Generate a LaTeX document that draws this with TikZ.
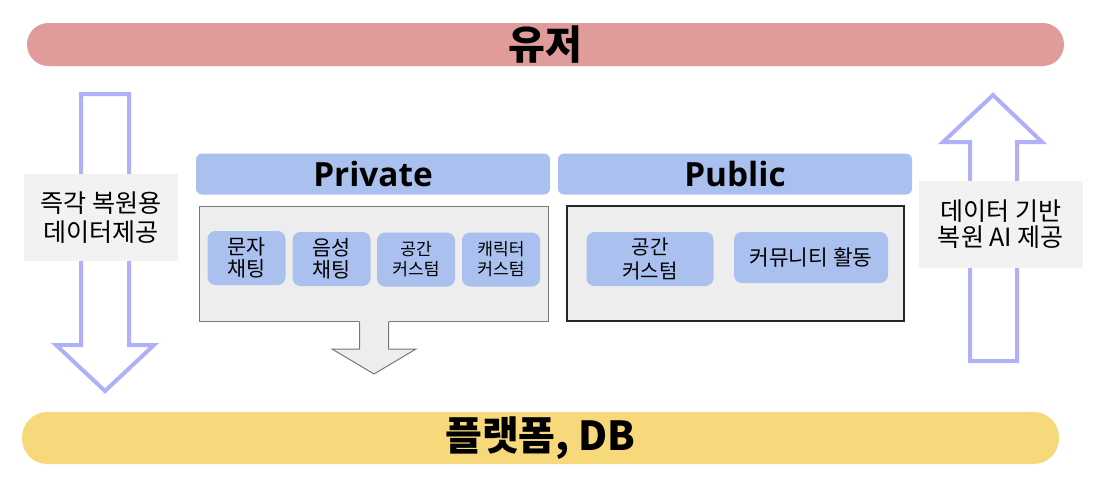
\documentclass[tikz,border=0pt]{standalone}
\usepackage{fontspec}
\setmainfont{Noto Sans CJK KR}
\newfontfamily\headfont{Open Sans}
\usepackage{tikz}

\definecolor{usercol}{RGB}{223,156,154}
\definecolor{dbcol}{RGB}{247,217,124}
\definecolor{headcol}{RGB}{170,192,238}
\definecolor{panelcol}{RGB}{237,237,237}
\definecolor{labelcol}{RGB}{242,242,242}
\definecolor{arrowcol}{RGB}{176,176,248}
\definecolor{edgecol}{RGB}{120,120,120}

\tikzset{
  bar/.style={inner sep=0pt, minimum width=777.75pt, font=\fontsize{30}{34}\selectfont\bfseries},
  header/.style={fill=headcol, rounded corners=4.5pt, inner sep=0pt, minimum width=265.5pt, minimum height=30.75pt, font=\headfont\fontsize{25}{28}\selectfont\bfseries},
  panel/.style={fill=panelcol, inner sep=0pt, minimum height=86.5pt},
  item/.style={fill=headcol, rounded corners=6pt, inner sep=0pt, align=center, minimum height=40.5pt},
  sidelabel/.style={fill=labelcol, inner sep=0pt, align=center, minimum height=65.25pt},
  bigarrow/.style={draw=arrowcol, line width=3pt, fill=white, line join=miter},
}

\begin{document}
\begin{tikzpicture}[x=0.75pt,y=0.75pt,yscale=-1,xscale=1]
\useasboundingbox (0,0) rectangle (1100,501);

%Rounded Rect [id:user]
\node [bar, fill=usercol, rounded corners=16pt, minimum height=32.25pt] (user) at (545.5,44.5) {유저};
%Rounded Rect [id:db]
\node [bar, fill=dbcol, rounded corners=19pt, minimum height=39pt] (db) at (540.5,438) {플랫폼, DB};

%Down Arrow [id:restorearrow]
\draw [bigarrow] (81,94) -- (129,94) -- (129,345) -- (154,345) -- (105,391) -- (56,345) -- (81,345) -- cycle ;
%Up Arrow [id:aiarrow]
\draw [bigarrow] (970,361) -- (970,142) -- (943,142) -- (993,95) -- (1042,142) -- (1017,142) -- (1017,361) -- cycle ;

% Text Node
\node [sidelabel, minimum width=115.5pt, font=\fontsize{18.8}{22}\selectfont] (restore) at (101,217.5) {즉각 복원용\\데이터제공};
% Text Node
\node [sidelabel, minimum width=123pt, font=\fontsize{18.8}{19.5}\selectfont] (aidata) at (1001,224.5) {데이터 기반\\복원 AI 제공};

% Private
\node [header] (private) at (373,174) {Private};
\node [panel, draw=edgecol, line width=0.75pt, minimum width=261.75pt] (privpanel) at (373.5,264) {};
%Down Arrow [id:privarrow]
\fill [panelcol] (359.5,320) -- (359.5,349) -- (332,349) -- (374,374) -- (416,349) -- (388.5,349) -- (388.5,320) -- cycle ;
\draw [edgecol, line width=0.75pt, line join=miter] (359.5,322) -- (359.5,349) -- (332,349) -- (374,374) -- (416,349) -- (388.5,349) -- (388.5,322) ;

% Text Node
\node [item, minimum width=58.5pt, font=\fontsize{15.5}{16.5}\selectfont] (textchat) at (246.5,258) {문자\\채팅};
% Text Node
\node [item, minimum width=58.5pt, font=\fontsize{15.5}{16.5}\selectfont] (voicechat) at (331.5,259) {음성\\채팅};
% Text Node
\node [item, minimum width=58.5pt, font=\fontsize{12.8}{15}\selectfont] (privspace) at (416,259.5) {공간\\커스텀};
% Text Node
\node [item, minimum width=58.5pt, font=\fontsize{12.8}{15}\selectfont] (character) at (501,259.5) {캐릭터\\커스텀};

% Public
\node [header] (public) at (735,174) {Public};
\node [panel, draw=black!85, line width=1.2pt, minimum width=252.75pt] (pubpanel) at (735.5,263.5) {};

% Text Node
\node [item, minimum width=95.25pt, font=\fontsize{15}{18.5}\selectfont] (pubspace) at (650,259) {공간\\커스텀};
% Text Node
\node [item, minimum width=115.5pt, minimum height=38.25pt, font=\fontsize{16}{18}\selectfont] (community) at (811,257.5) {커뮤니티 활동};

\end{tikzpicture}
\end{document}
